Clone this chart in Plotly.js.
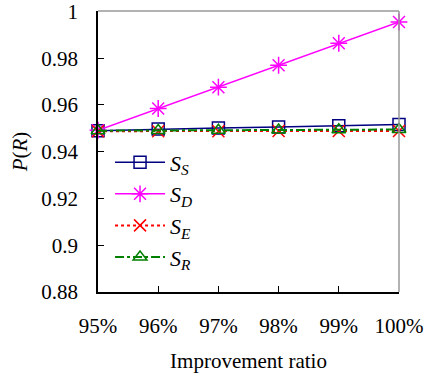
<!DOCTYPE html>
<html><head><meta charset="utf-8">
<script src="https://cdn.plot.ly/plotly-3.0.1.min.js"></script>
<style>html,body{margin:0;padding:0;background:#fff}#chart{width:424px;height:383px}</style>
</head><body><div id="chart"></div>
<script>
const ratios = [95, 96, 97, 98, 99, 100];
const ratioLabels = ['95%', '96%', '97%', '98%', '99%', '100%'];
const yTicks = [0.88, 0.9, 0.92, 0.94, 0.96, 0.98, 1];
const yTickLabels = ['0.88', '0.9', '0.92', '0.94', '0.96', '0.98', '1'];
const sS = [0.9490, 0.9497, 0.9502, 0.9506, 0.9511, 0.9516];
const sD = [0.9492, 0.9585, 0.9676, 0.9770, 0.9864, 0.9955];
const sE = [0.9488, 0.9488, 0.9488, 0.9489, 0.9489, 0.9489];
const sR = [0.9490, 0.9491, 0.9492, 0.9493, 0.9494, 0.9495];
const names = ['<i>S</i><sub><i>S</i></sub>', '<i>S</i><sub><i>D</i></sub>', '<i>S</i><sub><i>E</i></sub>', '<i>S</i><sub><i>R</i></sub>'];
const font = 'Liberation Serif';
const traces = [
  {x: ratios, y: sS, name: names[0], mode: 'lines+markers', line: {color: '#000080', width: 1.5}, marker: {symbol: 'square-open', size: 12, color: '#000080', line: {width: 1.5}}},
  {x: ratios, y: sD, name: names[1], mode: 'lines+markers', line: {color: '#FF00FF', width: 1.5}, marker: {symbol: 'asterisk-open', size: 14, color: '#FF00FF', line: {width: 1.5, color: '#FF00FF'}}},
  {x: ratios, y: sE, name: names[2], mode: 'lines+markers', line: {color: '#FF0000', width: 2, dash: 'dot'}, marker: {symbol: 'x-thin-open', size: 12, color: '#FF0000', line: {width: 1.5, color: '#FF0000'}}},
  {x: ratios, y: sR, name: names[3], mode: 'lines+markers', line: {color: '#008000', width: 2, dash: 'dashdot'}, marker: {symbol: 'triangle-up-open', size: 12, color: '#008000', line: {width: 1.5}}}
];
traces.forEach(t => t.cliponaxis = false);
const layout = {
  width: 424, height: 383,
  margin: {l: 98, r: 25, t: 11, b: 91},
  paper_bgcolor: '#fff', plot_bgcolor: '#fff',
  font: {family: font, size: 21, color: '#000'},
  showlegend: true,
  legend: {x: 0.04, y: 0.536, xanchor: 'left', yanchor: 'top', bgcolor: 'rgba(0,0,0,0)', font: {size: 22, family: font}, tracegroupgap: 0, itemwidth: 50},
  xaxis: {
    range: [95, 100], tickvals: ratios, ticktext: ratioLabels,
    showgrid: false, zeroline: false, showline: true, linecolor: '#000', linewidth: 1.5,
    ticks: 'inside', ticklen: 6, tickcolor: '#000', ticklabelstandoff: 14,
    tickfont: {size: 21, family: font},
    title: {text: 'Improvement ratio', font: {size: 21, family: font}, standoff: 16}
  },
  yaxis: {
    range: [0.88, 1.0002], tickvals: yTicks, ticktext: yTickLabels,
    showgrid: false, zeroline: false, showline: true, linecolor: '#000', linewidth: 1.5,
    ticks: 'inside', ticklen: 6, tickcolor: '#000', ticklabelstandoff: 14,
    ticklabeloverflow: 'allow',
    tickfont: {size: 21, family: font},
    title: {text: '<i>P</i>(<i>R</i>)', font: {size: 21, family: font}, standoff: 8}
  },
  shapes: [
    {type: 'line', xref: 'paper', yref: 'paper', x0: 0, x1: 1, y0: 1, y1: 1, line: {color: '#999', width: 1.5}},
    {type: 'line', xref: 'paper', yref: 'paper', x0: 1, x1: 1, y0: 0, y1: 1, line: {color: '#999', width: 1.5}}
  ]
};
Plotly.newPlot('chart', traces, layout, {displayModeBar: false});
</script></body></html>
